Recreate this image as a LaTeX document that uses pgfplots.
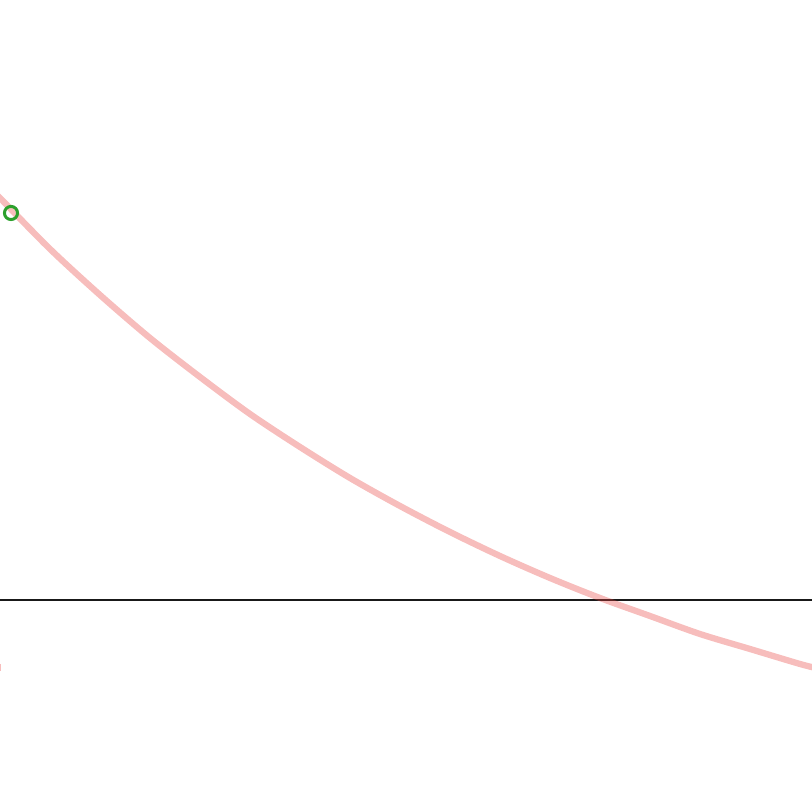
\documentclass[border=0pt]{standalone}
\usepackage{pgfplots}
\pgfplotsset{compat=1.18}
\definecolor{curvered}{HTML}{E8433F}
\definecolor{markgreen}{HTML}{2CA02C}
\begin{document}
\begin{tikzpicture}
    \begin{axis}[
            width = 10cm,
            height = 10cm,
            scale only axis,
            hide axis,
            xmin = 0,
            xmax = 8.12,
            ymin = -2.12,
            ymax = 6.00,
        ]
        % keep the full (empty) square as the picture
        \path (rel axis cs:0,0) rectangle (rel axis cs:1,1);
        % baseline
        \addplot [color=black!90, line width=0.4pt] coordinates {(0,0) (8.12,0)};
        % decaying curve
        \addplot [
            color=curvered,
            opacity=0.35,
            line width = 2.2pt,
            smooth,
        ]
        coordinates {
                (-0.1, 4.12)
                (0.0, 4.02)
                (0.5, 3.51)
                (1.0, 3.05)
                (1.5, 2.62)
                (2.0, 2.23)
                (2.5, 1.86)
                (3.0, 1.53)
                (3.5, 1.22)
                (4.0, 0.94)
                (4.5, 0.68)
                (5.0, 0.44)
                (5.5, 0.22)
                (6.0, 0.02)
                (6.5, -0.16)
                (7.0, -0.34)
                (7.5, -0.49)
                (8.0, -0.64)
                (8.2, -0.69)
            };
        % edge of a second curve, just off the left side
        \addplot [color=curvered, opacity=0.35, line width=2.2pt]
        coordinates {(-0.025, -0.64) (-0.025, -0.71)};
        % single marker
        \addplot [
            only marks,
            mark=o,
            mark size=2.3pt,
            line width=1.05pt,
            color=markgreen,
        ]
        coordinates {(0.11, 3.87)};
    \end{axis}
\end{tikzpicture}
\end{document}
